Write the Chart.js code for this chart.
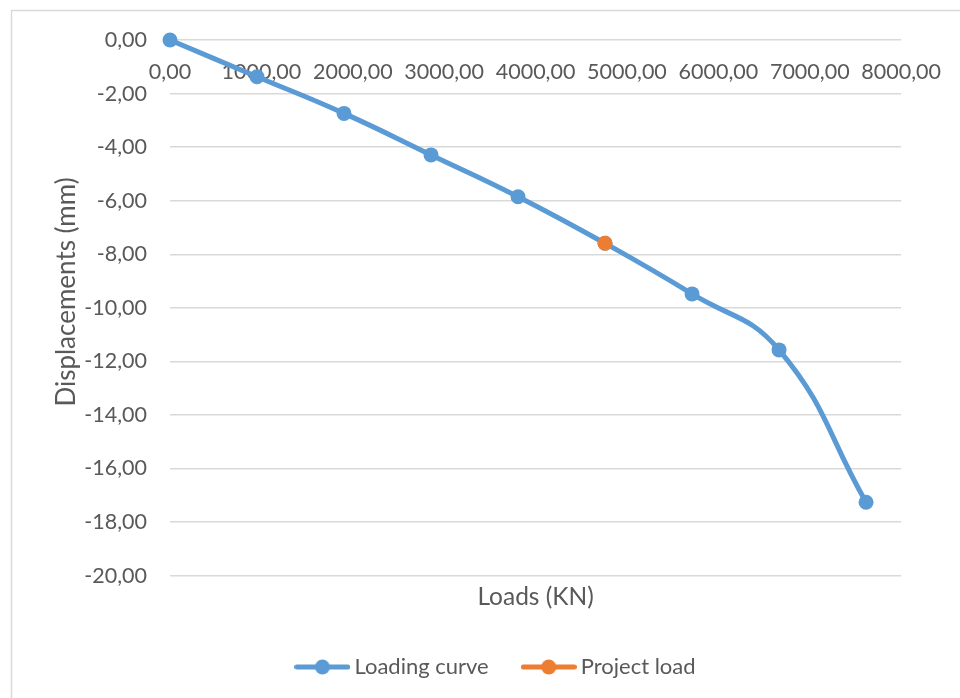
<!DOCTYPE html>
<html>
<head>
<meta charset="utf-8">
<title>Loading curve</title>
<script src="https://cdn.jsdelivr.net/npm/chart.js@4.4.1/dist/chart.umd.min.js"></script>
<style>
  html, body { margin: 0; padding: 0; background: #ffffff; }
  #wrap { width: 960px; height: 698px; }
</style>
</head>
<body>
<div id="wrap"><canvas id="chart" width="960" height="698"></canvas></div>
<script>
// Load test readings: applied load (kN) against measured displacement (mm)
const loads = [0, 952, 1904, 2856, 3808, 4760, 5712, 6664, 7616];
const displacements = [0, -1.37, -2.74, -4.29, -5.85, -7.59, -9.48, -11.57, -17.26];
const projectLoad = [4760];
const projectDisplacement = [-7.59];

const seriesNames = ['Loading curve', 'Project load'];
const seriesColors = ['#5B9BD5', '#ED7D31'];

const xTicks = [0, 8000, 1000];   // min, max, step
const yTicks = [-20, 0, 2];       // min, max, step

const xTitle = 'Loads (KN)';
const yTitle = 'Displacements (mm)';

const textColor = '#595959';
const gridColor = '#D9D9D9';
const fontFamily = 'Lato, "Liberation Sans", sans-serif';
const tickFont = { family: fontFamily, size: 21.5 };
const titleFont = { family: fontFamily, size: 24.5 };
const yTitleFont = { family: fontFamily, size: 26 };
const legendFont = { family: fontFamily, size: 22 };

const fmt = v => Number(v).toFixed(2).replace('.', ',');

// Legend swatch: a short line with a round marker on it
function legendSwatch(color) {
  const c = document.createElement('canvas');
  c.width = 56; c.height = 16;
  const g = c.getContext('2d');
  g.strokeStyle = color;
  g.lineWidth = 5;
  g.lineCap = 'round';
  g.beginPath(); g.moveTo(2.5, 8); g.lineTo(53.5, 8); g.stroke();
  g.fillStyle = color;
  g.beginPath(); g.arc(28, 8, 7.5, 0, Math.PI * 2); g.fill();
  return c;
}
const swatches = seriesColors.map(legendSwatch);

// Light frame around the chart, plus the vertical axis caption
const framePlugin = {
  id: 'frame',
  beforeDraw(chart) {
    const ctx = chart.ctx;
    ctx.save();
    ctx.strokeStyle = '#D9D9D9';
    ctx.lineWidth = 1.5;
    ctx.beginPath();
    ctx.moveTo(11.5, chart.height);
    ctx.lineTo(11.5, 10.5);
    ctx.lineTo(chart.width, 10.5);
    ctx.stroke();

    const yScale = chart.scales.y;
    ctx.translate(yScale.left + 16, 292);
    ctx.rotate(-Math.PI / 2);
    ctx.fillStyle = textColor;
    ctx.font = `${yTitleFont.size}px ${yTitleFont.family}`;
    ctx.textAlign = 'center';
    ctx.textBaseline = 'middle';
    ctx.fillText(yTitle, 0, 0);
    ctx.restore();
  }
};

const curvePoints = loads.map((x, i) => ({ x, y: displacements[i] }));
const projectPoints = projectLoad.map((x, i) => ({ x, y: projectDisplacement[i] }));

new Chart(document.getElementById('chart'), {
  type: 'line',
  data: {
    datasets: [
      {
        label: seriesNames[0],
        data: curvePoints,
        xAxisID: 'x', yAxisID: 'y',
        borderColor: seriesColors[0],
        backgroundColor: seriesColors[0],
        borderWidth: 5,
        tension: 0.45,
        pointRadius: 7.5,
        pointHoverRadius: 7.5,
        pointBorderWidth: 0,
        fill: false,
        clip: false,
        order: 1
      },
      {
        label: seriesNames[1],
        data: projectPoints,
        xAxisID: 'x', yAxisID: 'y',
        borderColor: seriesColors[1],
        backgroundColor: seriesColors[1],
        borderWidth: 5,
        pointRadius: 7.5,
        pointHoverRadius: 7.5,
        pointBorderWidth: 0,
        fill: false,
        clip: false,
        order: 0
      }
    ]
  },
  options: {
    responsive: false,
    animation: false,
    events: [],
    layout: { padding: { left: 51, right: 14, top: 40, bottom: 10 } },
    font: { family: fontFamily, size: 20 },
    color: textColor,
    scales: {
      x: {
        type: 'linear',
        position: { y: 0 },
        min: xTicks[0], max: xTicks[1],
        z: 1,
        grid: { display: false, drawTicks: false },
        border: { display: false },
        ticks: {
          stepSize: xTicks[2],
          padding: 19,
          color: textColor,
          font: tickFont,
          maxRotation: 0,
          autoSkip: false,
          callback: v => fmt(v)
        }
      },
      xTitle: {
        type: 'linear',
        axis: 'x',
        position: 'bottom',
        display: true,
        grid: { display: false, drawTicks: false },
        border: { display: false },
        ticks: { display: false },
        title: {
          display: true,
          text: xTitle,
          color: textColor,
          font: titleFont,
          padding: { top: 0, bottom: 5 }
        },
        afterFit(scale) { scale.height = 41.3; }
      },
      y: {
        type: 'linear',
        position: 'left',
        min: yTicks[0], max: yTicks[1],
        grid: { color: gridColor, lineWidth: 1.5, drawTicks: false },
        border: { display: false },
        ticks: {
          stepSize: yTicks[2],
          padding: 23,
          color: textColor,
          font: tickFont,
          callback: v => fmt(v)
        },
        title: { display: false },
        afterFit(scale) { scale.width = 119; }
      },
      yRight: {
        type: 'linear',
        axis: 'y',
        position: 'right',
        display: true,
        grid: { display: false, drawTicks: false },
        border: { display: false },
        ticks: { display: false },
        afterFit(scale) { scale.width = 41; }
      }
    },
    plugins: {
      legend: {
        position: 'bottom',
        labels: {
          color: textColor,
          font: legendFont,
          usePointStyle: true,
          pointStyleWidth: 42,
          padding: 39,
          generateLabels(chart) {
            return chart.data.datasets.map((ds, i) => ({
              text: ds.label,
              fillStyle: ds.backgroundColor,
              strokeStyle: ds.borderColor,
              lineWidth: 0,
              pointStyle: swatches[i],
              hidden: false,
              datasetIndex: i,
              fontColor: textColor
            }));
          }
        }
      },
      tooltip: { enabled: false }
    }
  },
  plugins: [framePlugin]
});
</script>
</body>
</html>
